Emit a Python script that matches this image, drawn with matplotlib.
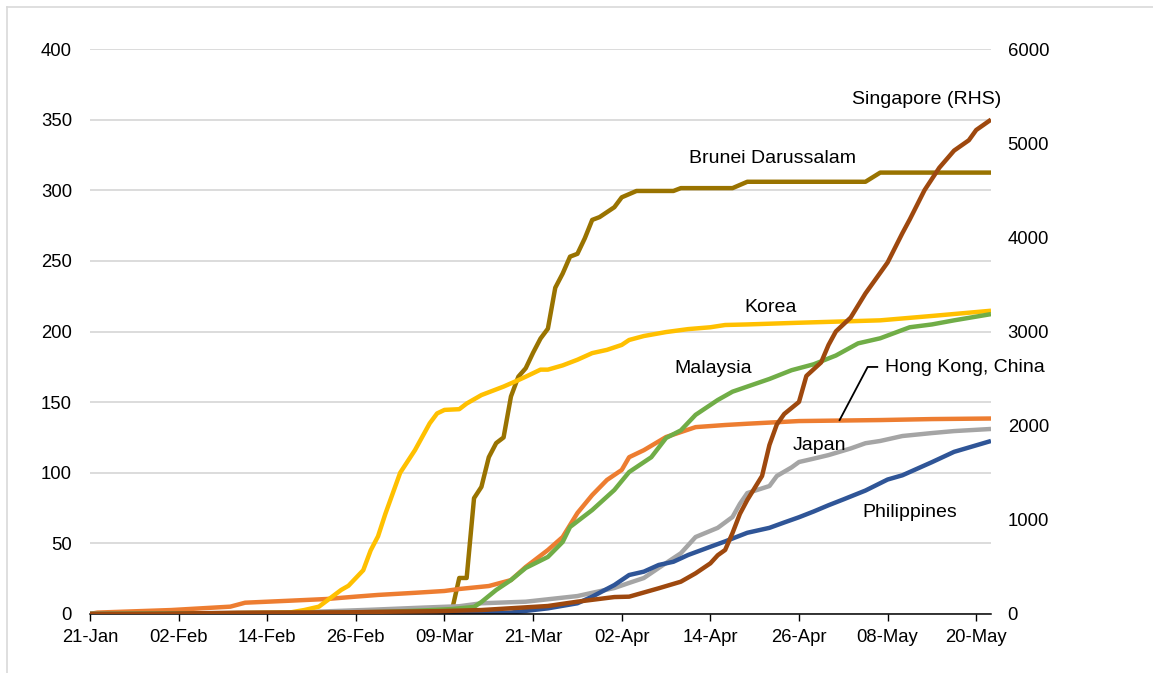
import matplotlib
matplotlib.use("Agg")
import matplotlib.pyplot as plt
from matplotlib.lines import Line2D

# days counted from 21-Jan (2020), values per million (Singapore on RHS)
tick_days = [0, 12, 24, 36, 48, 60, 72, 84, 96, 108, 120]
tick_labels = ["21-Jan", "02-Feb", "14-Feb", "26-Feb", "09-Mar", "21-Mar",
               "02-Apr", "14-Apr", "26-Apr", "08-May", "20-May"]

brunei_days = [0, 48, 49, 50, 51, 52, 53, 54, 55, 56, 57, 58, 59, 60, 61, 62, 63, 64,
               65, 66, 67, 68, 69, 71, 72, 74, 79, 80, 87, 89, 105, 107, 122]
brunei_vals = [0, 0, 2.3, 25.5, 25.5, 82, 90, 111, 121, 125, 154, 168, 174, 185, 195,
               202, 231, 241, 253, 255, 266, 279, 281, 288, 295, 299.5, 299.5, 301.5,
               301.5, 306, 306, 312.5, 312.5]

hk_days = [0, 1, 11, 19, 21, 27, 32, 36, 39, 44, 48, 50, 54, 55, 57, 59, 62, 64, 66,
           68, 70, 72, 73, 75, 78, 80, 82, 86, 89, 96, 107, 114, 122]
hk_vals = [0, 1, 2.8, 5.2, 8, 9.4, 10.6, 12.3, 13.5, 15, 16.3, 17.7, 19.8, 21.2, 24,
           33.3, 45.3, 54.5, 71.5, 84.2, 94.9, 102, 111, 116, 125.3, 128.8, 132.3,
           133.8, 134.7, 136.6, 137.3, 138, 138.4]

japan_days = [0, 10, 20, 30, 38, 45, 50, 53, 59, 66, 68, 71, 73, 75, 77, 80, 82, 85,
              87, 88, 89, 92, 93, 95, 96, 98, 100, 103, 105, 107, 110, 114, 117, 122]
japan_vals = [0, 0.1, 0.5, 1.5, 3, 4.5, 5.5, 7.6, 8.7, 12.7, 15, 18.4, 22, 25.5, 32.6,
              43, 54.5, 61, 68.7, 78, 85.6, 90.6, 97.7, 103.8, 107.6, 110, 112.5, 117.2,
              120.9, 122.5, 126, 128.1, 129.5, 131]

korea_days = [0, 10, 20, 27, 29, 31, 34, 35, 37, 38, 39, 40, 42, 44, 46, 47, 48, 50,
              51, 53, 56, 58, 59, 61, 62, 64, 66, 68, 70, 72, 73, 75, 78, 81, 84, 86,
              89, 96, 107, 114, 122]
korea_vals = [0, 0.3, 0.6, 1, 2.8, 5.2, 17, 20, 31, 45, 55, 71, 100, 116, 135, 142,
              144.5, 145, 149, 155, 161, 165.6, 168, 173, 173, 176, 180, 184.7, 187,
              190.5, 194, 196.8, 199.6, 201.7, 203, 204.6, 205, 206.2, 207.9, 211, 214.7]

malaysia_days = [0, 10, 20, 30, 40, 45, 49, 52, 53, 55, 57, 59, 62, 64, 65, 68, 71, 73,
                 76, 78, 80, 82, 85, 87, 89, 92, 95, 98, 101, 104, 107, 111, 114, 117, 122]
malaysia_vals = [0, 0.3, 0.6, 0.7, 1.5, 2.5, 3.5, 5, 8.5, 17, 24, 32.6, 40.4, 51, 61.6,
                 73.6, 87.8, 100.5, 111, 124.6, 130, 141, 151.5, 157.4, 161, 166.4,
                 172.6, 176.8, 183, 191.6, 195.2, 203, 205, 207.9, 212.3]

phil_days = [0, 45, 52, 57, 62, 66, 68, 71, 73, 75, 77, 79, 81, 84, 86, 89, 92, 94, 96,
             98, 100, 102, 105, 108, 110, 114, 117, 122]
phil_vals = [0, 0.1, 0.5, 1, 4, 7.6, 12.3, 20.5, 27.6, 30, 34.7, 37, 41.8, 47.6, 51.4,
             57.5, 61, 64.8, 68.5, 72.6, 77, 81.1, 87.4, 95.2, 98.2, 107.5, 114.8, 122.5]

sing_days = [0, 5, 10, 15, 20, 28, 35, 40, 47, 53, 62, 66, 71, 73, 77, 80, 82, 84, 85,
             86, 87, 88, 89, 91, 92, 93, 94, 96, 97, 99, 100, 101, 103, 105, 108, 110,
             111, 113, 115, 117, 119, 120, 122]
sing_vals = [0, 1, 3, 8, 14, 16, 18, 24, 30, 42, 85, 131, 180, 184, 273, 343, 432, 538,
             624, 680, 860, 1063, 1211, 1466, 1795, 2013, 2124, 2252, 2528, 2672, 2857,
             3001, 3148, 3404, 3733, 4044, 4190, 4501, 4739, 4921, 5031, 5140, 5250]

plt.rcParams['font.family'] = ['Liberation Sans', 'DejaVu Sans']
plt.rcParams['font.size'] = 13.3
label_size = 14

W, H = 1153, 673
fig = plt.figure(figsize=(W / 100, H / 100), dpi=100)
ax = fig.add_axes([90 / W, 1 - 614 / H, (991 - 90) / W, (614 - 49) / H])
ax2 = ax.twinx()

# outer frame (top and left edges visible)
fig.add_artist(Line2D([7 / W, 1], [1 - 7 / H, 1 - 7 / H], transform=fig.transFigure,
                      color="#D9D9D9", lw=1.2))
fig.add_artist(Line2D([7 / W, 7 / W], [0, 1 - 7 / H], transform=fig.transFigure,
                      color="#D9D9D9", lw=1.2))

lw = 3.2
style = dict(lw=lw, solid_joinstyle="round", solid_capstyle="butt")
ax.plot(brunei_days, brunei_vals, color="#997300", **style)
ax.plot(hk_days, hk_vals, color="#ED7D31", **style)
ax.plot(japan_days, japan_vals, color="#A5A5A5", **style)
ax.plot(korea_days, korea_vals, color="#FFC000", **style)
ax.plot(malaysia_days, malaysia_vals, color="#70AD47", **style)
ax.plot(phil_days, phil_vals, color="#2F5597", **style)
ax2.plot(sing_days, sing_vals, color="#9E480E", **style)

ax.set_xlim(0, 122)
ax.set_ylim(0, 400)
ax2.set_ylim(0, 6000)
ax.set_yticks(range(0, 401, 50))
ax2.set_yticks(range(0, 6001, 1000))
ax.set_xticks(tick_days)
ax.set_xticklabels(tick_labels)

ax.grid(axis="y", color="#D9D9D9", lw=1.3)
ax.set_axisbelow(True)
for a in (ax, ax2):
    for s in ("top", "left", "right"):
        a.spines[s].set_visible(False)
ax2.spines["bottom"].set_visible(False)
ax.spines["bottom"].set_color("#000000")
ax.spines["bottom"].set_linewidth(1.1)
ax.spines["bottom"].set_zorder(5)

ax.tick_params(axis="y", length=0, pad=13)
ax2.tick_params(axis="y", length=0, pad=12)
ax.tick_params(axis="x", direction="out", length=5, width=1, color="#000000", pad=6)

# series labels
ax.text(113.3, 364.6, "Singapore (RHS)", ha="center", va="center", fontsize=label_size)
ax.text(92.4, 322.6, "Brunei Darussalam", ha="center", va="center", fontsize=label_size)
ax.text(92.2, 217, "Korea", ha="center", va="center", fontsize=label_size)
ax.text(84.4, 174, "Malaysia", ha="center", va="center", fontsize=label_size)
ax.text(98.8, 119.6, "Japan", ha="center", va="center", fontsize=label_size)
ax.text(111.0, 72.2, "Philippines", ha="center", va="center", fontsize=label_size)
ax.plot([101.5, 105.3, 106.6], [137.3, 174.9, 174.9], color="#000000", lw=1.3)
ax.text(107.7, 174.2, "Hong Kong, China", ha="left", va="center", fontsize=label_size)

fig.savefig("out.png", dpi=100)
